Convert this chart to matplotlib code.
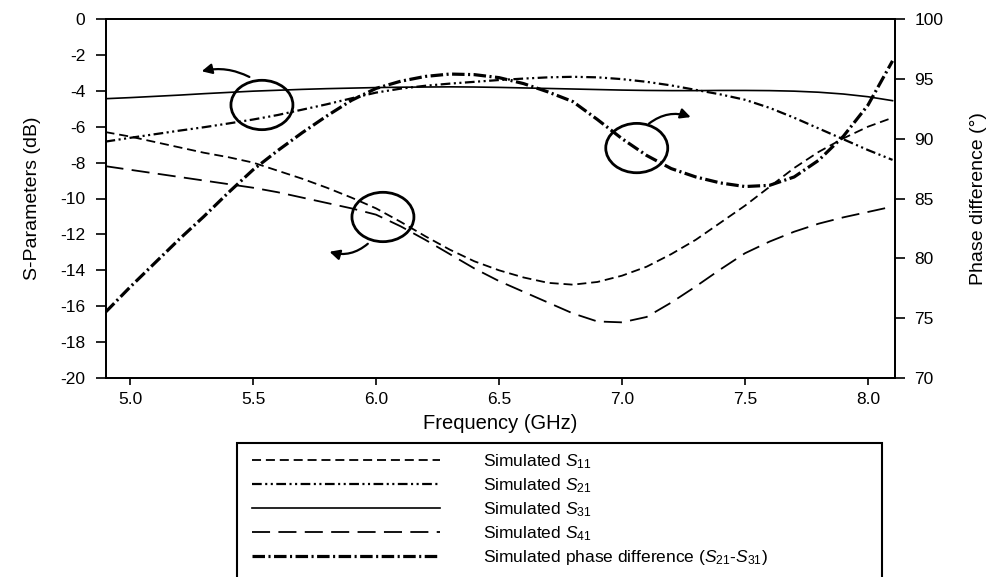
import matplotlib
matplotlib.use("Agg")
import matplotlib.pyplot as plt
from matplotlib.patches import Ellipse, FancyArrowPatch, Rectangle

plt.rcParams['font.family'] = ['Liberation Sans', 'DejaVu Sans']
plt.rcParams['mathtext.fontset'] = 'custom'
plt.rcParams['mathtext.rm'] = 'Liberation Sans'
plt.rcParams['mathtext.it'] = 'Liberation Sans:italic'
plt.rcParams['lines.scale_dashes'] = False

freq = [4.9, 5.0, 5.1, 5.2, 5.3, 5.4, 5.5, 5.6, 5.7, 5.8, 5.9, 6.0, 6.1, 6.2, 6.3, 6.4,
        6.5, 6.6, 6.7, 6.8, 6.9, 7.0, 7.1, 7.2, 7.3, 7.4, 7.5, 7.6, 7.7, 7.8, 7.9, 8.0, 8.1]

s11 = [-6.3, -6.55, -6.85, -7.15, -7.45, -7.7, -8.0, -8.45, -8.9, -9.4, -9.95, -10.55,
       -11.3, -12.1, -12.85, -13.5, -14.0, -14.4, -14.7, -14.8, -14.65, -14.3, -13.8,
       -13.1, -12.3, -11.35, -10.4, -9.35, -8.3, -7.4, -6.65, -6.0, -5.5]

s21 = [-6.83, -6.62, -6.42, -6.22, -6.03, -5.82, -5.6, -5.35, -5.05, -4.75, -4.42, -4.1,
       -3.88, -3.72, -3.6, -3.5, -3.4, -3.32, -3.25, -3.22, -3.25, -3.35, -3.5, -3.7,
       -3.95, -4.2, -4.5, -4.95, -5.5, -6.1, -6.7, -7.3, -7.85]

s31 = [-4.44, -4.38, -4.31, -4.24, -4.16, -4.09, -4.02, -3.97, -3.92, -3.88, -3.85, -3.82,
       -3.80, -3.79, -3.78, -3.79, -3.81, -3.84, -3.87, -3.90, -3.93, -3.96, -3.98, -3.99,
       -3.99, -3.98, -3.98, -3.99, -4.02, -4.08, -4.18, -4.33, -4.55]

s41 = [-8.2, -8.4, -8.6, -8.8, -9.0, -9.2, -9.4, -9.65, -9.95, -10.25, -10.55, -10.9,
       -11.55, -12.3, -13.1, -13.9, -14.6, -15.2, -15.8, -16.4, -16.85, -16.9, -16.6,
       -15.8, -14.9, -13.95, -13.05, -12.4, -11.85, -11.4, -11.05, -10.75, -10.45]

phase = [75.5, 77.6, 79.6, 81.6, 83.5, 85.5, 87.4, 89.0, 90.5, 91.9, 93.2, 94.2, 94.8,
         95.2, 95.4, 95.35, 95.1, 94.6, 93.9, 93.1, 91.6, 90.0, 88.6, 87.5, 86.8, 86.3,
         86.0, 86.1, 86.8, 88.2, 90.2, 92.8, 96.5]

labels = ['Simulated $S_{11}$', 'Simulated $S_{21}$', 'Simulated $S_{31}$',
          'Simulated $S_{41}$', 'Simulated phase difference ($S_{21}$-$S_{31}$)']
xticks = [5.0, 5.5, 6.0, 6.5, 7.0, 7.5, 8.0]
yticks_left = list(range(-20, 1, 2))
yticks_right = list(range(70, 101, 5))

W, H = 991, 577
fig = plt.figure(figsize=(W / 100, H / 100), dpi=100)
ax = fig.add_axes([106 / W, 1 - 378 / H, (895 - 106) / W, (378 - 19) / H])
ax2 = ax.twinx()

c = 'black'
l1, = ax.plot(freq, s11, color=c, lw=1.3, linestyle=(0, (6.5, 3.5)))
l2, = ax.plot(freq, s21, color=c, lw=1.6, linestyle=(0, (7, 2.5, 1.5, 2.5, 1.5, 2.5)))
l3, = ax.plot(freq, s31, color=c, lw=1.2, linestyle='-')
l4, = ax.plot(freq, s41, color=c, lw=1.3, linestyle=(0, (13, 6)))
l5, = ax2.plot(freq, phase, color=c, lw=2.3, linestyle=(0, (9, 2.5, 1.5, 2.5)))

ax.set_xlim(4.902, 8.11)
ax.set_ylim(-20, 0)
ax2.set_ylim(70, 100)
ax.set_xticks(xticks)
ax.set_xticklabels([f'{t:.1f}' for t in xticks])
ax.set_yticks(yticks_left)
ax.set_yticklabels([str(t) for t in yticks_left])
ax2.set_yticks(yticks_right)

for a in (ax, ax2):
    for s in a.spines.values():
        s.set_linewidth(1.3)
ax.tick_params(axis='x', direction='out', length=5, width=1.2, labelsize=12.5, pad=5)
ax.tick_params(axis='y', direction='out', length=7, width=1.2, labelsize=12.5, pad=8)
ax2.tick_params(axis='y', direction='out', length=7, width=1.2, labelsize=12.5, pad=7)

ax.set_xlabel('Frequency (GHz)', fontsize=14.5, labelpad=5)
ax.set_ylabel('S-Parameters (dB)', fontsize=14, labelpad=14)
ax2.set_ylabel('Phase difference (°)', fontsize=14, labelpad=19)

# annotation circles and arrows (in left-axis data coordinates)
for (cx, cy) in [(5.536, -4.79), (6.028, -11.03), (7.060, -7.19)]:
    ax.add_patch(Ellipse((cx, cy), 0.252, 2.75, fill=False, lw=2.0, ec=c, zorder=5))

arrows = [((5.495, -3.3), (5.28, -2.95), 0.2),
          ((5.975, -12.42), (5.80, -12.92), -0.3),
          ((7.101, -5.92), (7.29, -5.52), -0.3)]
for (p0, p1, rad) in arrows:
    ax.add_patch(FancyArrowPatch(p0, p1, connectionstyle=f'arc3,rad={rad}',
                                 arrowstyle='-|>,head_length=6,head_width=3',
                                 lw=1.6, color=c, zorder=5))

# legend box (extends below the figure edge)
fig.patches.append(Rectangle((237 / W, -0.05), (882 - 237) / W, 1 - 443 / H + 0.05,
                             transform=fig.transFigure, fill=False, lw=1.5, ec=c))

fig.legend([l1, l2, l3, l4, l5], labels, loc='upper left',
           bbox_to_anchor=(252 / W, 1 - 452 / H), frameon=False, fontsize=12.5,
           handlelength=10.8, handletextpad=2.5, labelspacing=0.31, borderpad=0,
           borderaxespad=0)

fig.savefig('out.png', dpi=100)
